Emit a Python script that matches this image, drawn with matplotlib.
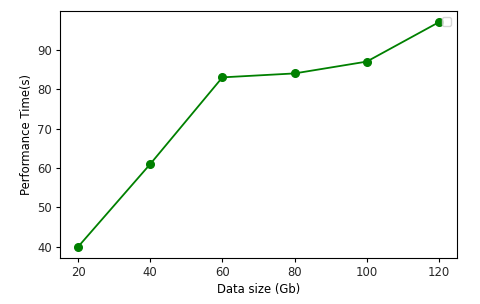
import matplotlib
matplotlib.use("Agg")
import matplotlib.pyplot as plt

data_size = [20, 40, 60, 80, 100, 120]
perf_time = [40, 61, 83, 84, 87, 97]

plt.rcParams['font.size'] = 8.4
plt.rcParams['text.color'] = '#262626'
plt.rcParams['xtick.labelcolor'] = '#262626'
plt.rcParams['ytick.labelcolor'] = '#262626'
plt.rcParams['xtick.major.size'] = 2.8
plt.rcParams['ytick.major.size'] = 2.8
plt.rcParams['xtick.major.pad'] = 2.8
plt.rcParams['ytick.major.pad'] = 2.8
plt.rcParams['axes.labelpad'] = 3.0
fig = plt.figure(figsize=(4.8, 3.04), dpi=100)
ax = fig.add_axes([0.125, 0.151, 0.827, 0.813])
ax.plot(data_size, perf_time, color='green', marker='o', markersize=5.5, linewidth=1.3)
ax.set_xlabel('Data size (Gb)')
ax.set_ylabel('Performance Time(s)')
ax.set_xticks(data_size)
ax.legend(handles=[], labels=[], loc='upper right')
fig.savefig('out.png', dpi=100)
